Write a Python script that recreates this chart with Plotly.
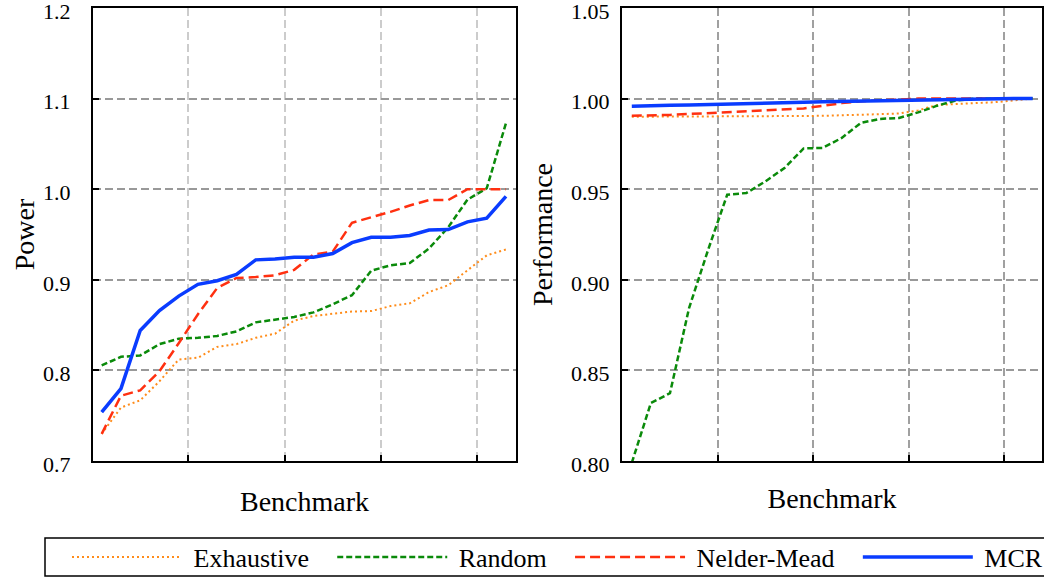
import plotly.graph_objects as go

benchmarks = list(range(1, 23))

power_exhaustive = [0.730, 0.759, 0.767, 0.788, 0.812, 0.814, 0.826, 0.829, 0.836, 0.8405, 0.855,
                    0.860, 0.8625, 0.865, 0.8655, 0.871, 0.874, 0.8865, 0.894, 0.910, 0.927, 0.9335]
power_random = [0.8055, 0.815, 0.8165, 0.829, 0.835, 0.836, 0.838, 0.843, 0.853, 0.856, 0.859,
                0.864, 0.873, 0.883, 0.910, 0.916, 0.9185, 0.9345, 0.958, 0.9885, 1.001, 1.073]
power_nm = [0.730, 0.772, 0.778, 0.799, 0.830, 0.862, 0.891, 0.902, 0.903, 0.905, 0.911,
            0.928, 0.931, 0.963, 0.969, 0.975, 0.982, 0.988, 0.988, 1.000, 1.000, 1.000]
power_mcr = [0.754, 0.780, 0.844, 0.866, 0.882, 0.895, 0.899, 0.906, 0.922, 0.923, 0.925,
             0.925, 0.929, 0.941, 0.947, 0.947, 0.949, 0.955, 0.9555, 0.964, 0.968, 0.992]

perf_exhaustive = [0.9900, 0.9900, 0.9901, 0.9901, 0.9902, 0.9902, 0.9903, 0.9903, 0.9904, 0.9904, 0.9905,
                   0.9907, 0.9910, 0.9914, 0.9918, 0.9935, 0.9965, 0.9970, 0.9975, 0.9980, 0.9990, 1.0000]
perf_random = [0.799, 0.832, 0.8374, 0.8844, 0.9166, 0.947, 0.9479, 0.9543, 0.9617, 0.9725, 0.9728,
               0.9783, 0.9866, 0.9888, 0.9893, 0.9924, 0.9961, 0.9990, 1.0000, 1.0000, 1.0000, 1.0000]
perf_nm = [0.9905, 0.9906, 0.9910, 0.9915, 0.9920, 0.9922, 0.9928, 0.9934, 0.9940, 0.9946, 0.9960,
           0.9975, 0.9985, 0.9990, 0.9995, 1.0000, 1.0000, 1.0000, 1.0000, 1.0000, 1.0000, 1.0000]
perf_mcr = [0.9958, 0.9962, 0.9963, 0.9964, 0.9966, 0.9970, 0.9972, 0.9974, 0.9977, 0.9980, 0.9983,
            0.9985, 0.9987, 0.9989, 0.9990, 0.9992, 0.9994, 0.9996, 0.9998, 0.9999, 1.0000, 1.0000]

series_names = ["Exhaustive", "Random", "Nelder-Mead", "MCR"]
series = [
    (series_names[0], power_exhaustive, perf_exhaustive, "#ff8c1a", "2px,3px", 2),
    (series_names[1], power_random, perf_random, "#0a8a0a", "6px,3px", 2.5),
    (series_names[2], power_nm, perf_nm, "#ff3010", "10px,5px", 2.5),
    (series_names[3], power_mcr, perf_mcr, "#0a3cff", "solid", 3.5),
]

FONT = "Times New Roman, Liberation Serif, Tinos, DejaVu Serif, serif"
W, H = 1044, 579
LEAD = "\u00a0"
TRAIL = "\u00a0\u00a0\u2009"

fig = go.Figure()
for i, (name, pw, pf, color, dash, width) in enumerate(series):
    label = LEAD + name + (TRAIL if i < len(series) - 1 else "")
    fig.add_trace(go.Scatter(x=benchmarks, y=pw, mode="lines", name=label,
                             line=dict(color=color, dash=dash, width=width),
                             xaxis="x", yaxis="y", legendgroup=name, showlegend=True))
    fig.add_trace(go.Scatter(x=benchmarks, y=pf, mode="lines", name=label,
                             line=dict(color=color, dash=dash, width=width),
                             xaxis="x2", yaxis="y2", legendgroup=name, showlegend=False))

ydom = [1 - 461 / H, 1 - 8 / H]
common_axis = dict(showline=True, linecolor="black", linewidth=2, mirror=True,
                   ticks="inside", ticklen=6, tickwidth=2, tickcolor="black",
                   zeroline=False, ticklabeloverflow="allow", automargin=False,
                   tickfont=dict(family=FONT, size=22, color="black"))
title_font = dict(family=FONT, size=28, color="black")

fig.update_layout(
    width=W, height=H,
    margin=dict(l=0, r=0, t=0, b=0, autoexpand=False),
    paper_bgcolor="white", plot_bgcolor="white",
    font=dict(family=FONT, color="black"),
    xaxis=dict(domain=[93 / W, 516 / W], range=[0.548, 22.52],
               tickvals=[5.5, 10.5, 15.5, 20.5], showticklabels=False,
               showgrid=True, gridcolor="#cccccc", gridwidth=2, griddash="8px,4px",
               title=dict(text="Benchmark", font=title_font, standoff=29),
               **common_axis),
    yaxis=dict(domain=ydom, range=[0.7, 1.2], tickvals=[0.7, 0.8, 0.9, 1.0, 1.1, 1.2],
               tickformat=".1f", ticklabelstandoff=16, ticklabelshift=3,
               showgrid=True, gridcolor="#999999", gridwidth=2, griddash="8px,4px",
               title=dict(text="Power", font=title_font, standoff=0),
               **common_axis),
    xaxis2=dict(domain=[622 / W, 1042 / W], range=[0.487, 22.49],
                tickvals=[5.5, 10.5, 15.5, 20.5], showticklabels=False,
                showgrid=True, gridcolor="#a0a0a0", gridwidth=2, griddash="8px,4px",
                title=dict(text="Benchmark", font=title_font, standoff=26),
                anchor="y2", **common_axis),
    yaxis2=dict(domain=ydom, range=[0.80, 1.05], tickvals=[0.80, 0.85, 0.90, 0.95, 1.00, 1.05],
                tickformat=".2f", ticklabelstandoff=6, ticklabelshift=3,
                showgrid=True, gridcolor="#999999", gridwidth=2, griddash="8px,4px",
                title=dict(text="Performance", font=title_font, standoff=10),
                anchor="x2", **common_axis),
    legend=dict(orientation="h", x=67 / W, y=1 - 557 / H, xanchor="left", yanchor="middle",
                borderwidth=0, itemwidth=110,
                font=dict(family=FONT, size=26, color="black"),
                bgcolor="rgba(0,0,0,0)"),
    shapes=[dict(type="rect", xref="paper", yref="paper",
                 x0=45 / W, x1=1.05, y0=1 - 576 / H, y1=1 - 538 / H,
                 line=dict(color="black", width=1.5), fillcolor="rgba(0,0,0,0)",
                 layer="below")],
)

fig.write_html("out.html")
